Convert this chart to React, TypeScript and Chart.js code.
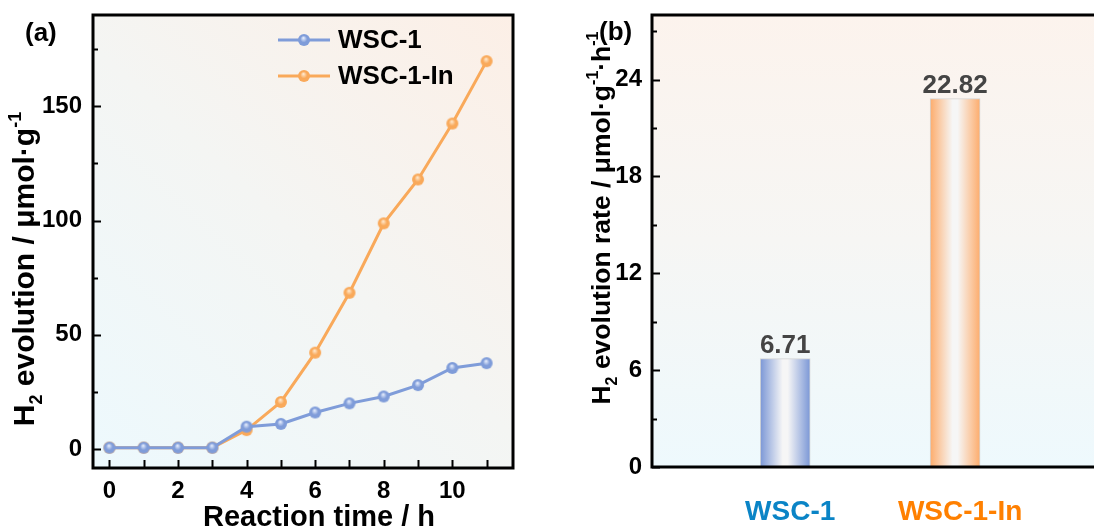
import React, { useEffect, useRef } from 'react';
import { Chart, registerables } from 'chart.js';

Chart.register(...registerables);

// ---------- data ----------
const hours = [0, 1, 2, 3, 4, 5, 6, 7, 8, 9, 10, 11];
const wsc1 = [0.6, 0.6, 0.6, 0.6, 9.8, 11, 16, 20, 23, 28, 35.5, 37.6];
const wsc1In = [0.6, 0.6, 0.6, 0.6, 8.3, 20.6, 42.2, 68.4, 98.8, 118, 142.5, 169.8];
const xTicksA = [0, 1, 2, 3, 4, 5, 6, 7, 8, 9, 10, 11];
const yTicksA = [0, 25, 50, 75, 100, 125, 150, 175];
const seriesNames = ['WSC-1', 'WSC-1-In'];

const rateLabels = ['WSC-1', 'WSC-1-In'];
const rates = [6.71, 22.82];
const yTicksB = [0, 3, 6, 9, 12, 15, 18, 21, 24, 27];

// ---------- styles ----------
const FONT = '"Liberation Sans", Arial, Helvetica, sans-serif';
const BLUE = '#7f9cd9';
const BLUE_LIGHT = '#e4ecfc';
const ORANGE = '#f9a95a';
const ORANGE_LIGHT = '#ffe8cc';

type Seg = { t: string; k?: 'sub' | 'sup' };

function segFont(size: number, k?: string) {
  const s = k ? Math.round(size * 0.6) : size;
  return `bold ${s}px ${FONT}`;
}

function richWidth(ctx: CanvasRenderingContext2D, segs: Seg[], size: number) {
  let w = 0;
  for (const s of segs) {
    ctx.font = segFont(size, s.k);
    w += ctx.measureText(s.t).width;
  }
  return w;
}

function drawRich(
  ctx: CanvasRenderingContext2D,
  segs: Seg[],
  cx: number,
  cy: number,
  size: number,
  rotated: boolean,
) {
  ctx.save();
  ctx.translate(cx, cy);
  if (rotated) ctx.rotate(-Math.PI / 2);
  const total = richWidth(ctx, segs, size);
  let u = -total / 2;
  ctx.fillStyle = '#000';
  ctx.textBaseline = 'alphabetic';
  ctx.textAlign = 'left';
  for (const s of segs) {
    ctx.font = segFont(size, s.k);
    const off = s.k === 'sub' ? size * 0.28 : s.k === 'sup' ? -size * 0.45 : 0;
    ctx.fillText(s.t, u, off);
    u += ctx.measureText(s.t).width;
  }
  ctx.restore();
}

function makeBall(color: string, light: string, r: number) {
  const c = document.createElement('canvas');
  const s = Math.ceil(r * 2 + 2);
  c.width = s;
  c.height = s;
  const g = c.getContext('2d')!;
  const cx = s / 2;
  const cy = s / 2;
  const grad = g.createRadialGradient(cx - r * 0.1, cy - r * 0.35, r * 0.05, cx, cy, r);
  grad.addColorStop(0, light);
  grad.addColorStop(0.55, color);
  grad.addColorStop(1, color);
  g.fillStyle = grad;
  g.beginPath();
  g.arc(cx, cy, r, 0, Math.PI * 2);
  g.fill();
  return c;
}

function noPad(s: any) {
  s.paddingTop = 0;
  s.paddingBottom = 0;
  s.paddingLeft = 0;
  s.paddingRight = 0;
}

function drawFrame(
  chart: any,
  ctx: CanvasRenderingContext2D,
  yMajor: (v: number) => boolean,
  withX: boolean,
) {
  const { left, right, top, bottom } = chart.chartArea;
  ctx.save();
  ctx.strokeStyle = '#000';
  ctx.lineWidth = 2;
  const ys = chart.scales.y;
  for (const t of ys.ticks) {
    const py = Math.round(ys.getPixelForValue(t.value)) + 0.5;
    const len = yMajor(t.value) ? 8 : 5;
    ctx.beginPath();
    ctx.moveTo(left, py);
    ctx.lineTo(left + len, py);
    ctx.stroke();
  }
  if (withX) {
    const xs = chart.scales.x;
    for (const t of xs.ticks) {
      const px = Math.round(xs.getPixelForValue(t.value)) + 0.5;
      ctx.beginPath();
      ctx.moveTo(px, bottom);
      ctx.lineTo(px, bottom - 8);
      ctx.stroke();
    }
  }
  ctx.lineWidth = 3;
  ctx.strokeRect(left, top, right - left, bottom - top);
  ctx.restore();
}

function LineChart() {
  const ref = useRef<HTMLCanvasElement | null>(null);
  useEffect(() => {
    const canvas = ref.current!;
    const blueBall = makeBall(BLUE, BLUE_LIGHT, 6);
    const orangeBall = makeBall(ORANGE, ORANGE_LIGHT, 6);
    const bgPlugin = {
      id: 'bgA',
      beforeDraw(chart: any) {
        const { ctx } = chart;
        const { left, right, top, bottom } = chart.chartArea;
        const g = ctx.createLinearGradient(left, bottom, right, top);
        g.addColorStop(0, '#edf9fd');
        g.addColorStop(0.5, '#f4f5f3');
        g.addColorStop(1, '#fcefe6');
        ctx.save();
        ctx.fillStyle = g;
        ctx.fillRect(left, top, right - left, bottom - top);
        ctx.restore();
      },
    };
    const decoPlugin = {
      id: 'decoA',
      afterDraw(chart: any) {
        const ctx: CanvasRenderingContext2D = chart.ctx;
        drawFrame(chart, ctx, (v) => v % 50 === 0, true);
        const items = [
          { name: seriesNames[0], color: BLUE, ball: blueBall, y: 40 },
          { name: seriesNames[1], color: ORANGE, ball: orangeBall, y: 76 },
        ];
        ctx.save();
        for (const it of items) {
          ctx.strokeStyle = it.color;
          ctx.lineWidth = 3;
          ctx.beginPath();
          ctx.moveTo(278, it.y);
          ctx.lineTo(330, it.y);
          ctx.stroke();
          ctx.drawImage(it.ball, 304 - it.ball.width / 2, it.y - it.ball.height / 2);
          ctx.fillStyle = '#000';
          ctx.font = `bold 26px ${FONT}`;
          ctx.textAlign = 'left';
          ctx.textBaseline = 'middle';
          ctx.fillText(it.name, 338, it.y + 1);
        }
        ctx.font = `bold 26px ${FONT}`;
        ctx.textAlign = 'left';
        ctx.textBaseline = 'middle';
        ctx.fillText('(a)', 25, 34);
        ctx.restore();
        drawRich(ctx, [{ t: 'Reaction time / h' }], 319, 526, 29, false);
        drawRich(
          ctx,
          [{ t: 'H' }, { t: '2', k: 'sub' }, { t: ' evolution / μmol·g' }, { t: '-1', k: 'sup' }],
          34,
          269,
          30,
          true,
        );
      },
    };
    const chart = new Chart(canvas, {
      type: 'line',
      data: {
        datasets: [
          {
            label: seriesNames[0],
            data: hours.map((h, i) => ({ x: h, y: wsc1[i] })),
            borderColor: BLUE,
            borderWidth: 3,
            pointStyle: blueBall as any,
            pointRadius: 6,
            tension: 0,
          },
          {
            label: seriesNames[1],
            data: hours.map((h, i) => ({ x: h, y: wsc1In[i] })),
            borderColor: ORANGE,
            borderWidth: 3,
            pointStyle: orangeBall as any,
            pointRadius: 6,
            tension: 0,
          },
        ],
      },
      options: {
        responsive: false,
        animation: false,
        layout: { padding: { top: 15, right: 47, left: 0, bottom: 0 } },
        plugins: { legend: { display: false }, tooltip: { enabled: false } },
        scales: {
          x: {
            type: 'linear',
            offset: false,
            min: -0.48,
            max: 11.77,
            grid: { display: false, drawTicks: false },
            border: { display: false },
            afterBuildTicks: (s: any) => {
              s.ticks = xTicksA.map((v) => ({ value: v }));
            },
            afterFit: (s: any) => {
              s.height = 59;
              noPad(s);
            },
            ticks: {
              autoSkip: false,
              maxRotation: 0,
              padding: 9,
              color: '#000',
              font: { family: FONT, size: 24, weight: 'bold' },
              callback: (v: any) => (Number(v) % 2 === 0 ? String(v) : ''),
            },
          },
          y: {
            type: 'linear',
            min: -8.3,
            max: 190,
            grid: { display: false, drawTicks: false },
            border: { display: false },
            afterBuildTicks: (s: any) => {
              s.ticks = yTicksA.map((v) => ({ value: v }));
            },
            afterFit: (s: any) => {
              s.width = 93;
              noPad(s);
            },
            ticks: {
              padding: 11,
              color: '#000',
              font: { family: FONT, size: 24, weight: 'bold' },
              callback: (v: any) => (Number(v) % 50 === 0 ? String(v) : ''),
            },
          },
        },
      },
      plugins: [bgPlugin, decoPlugin],
    } as any);
    return () => chart.destroy();
  }, []);
  return <canvas ref={ref} width={560} height={527} style={{ position: 'absolute', left: 0, top: 0 }} />;
}

function BarChart() {
  const ref = useRef<HTMLCanvasElement | null>(null);
  useEffect(() => {
    const canvas = ref.current!;
    const edges = ['#7b97d6', '#fdac6c'];
    const labelColors = ['#0a84c6', '#ff8000'];
    const bgPlugin = {
      id: 'bgB',
      beforeDraw(chart: any) {
        const { ctx } = chart;
        const { left, right, top, bottom } = chart.chartArea;
        const g = ctx.createLinearGradient(0, top, 0, bottom);
        g.addColorStop(0, '#fcf3ed');
        g.addColorStop(0.5, '#f6f6f4');
        g.addColorStop(1, '#eef9fd');
        ctx.save();
        ctx.fillStyle = g;
        ctx.fillRect(left, top, right - left, bottom - top);
        ctx.restore();
      },
    };
    const decoPlugin = {
      id: 'decoB',
      afterDatasetsDraw(chart: any) {
        const ctx: CanvasRenderingContext2D = chart.ctx;
        const meta = chart.getDatasetMeta(0);
        ctx.save();
        ctx.fillStyle = '#444';
        ctx.font = `bold 26px ${FONT}`;
        ctx.textAlign = 'center';
        ctx.textBaseline = 'alphabetic';
        meta.data.forEach((el: any, i: number) => {
          ctx.fillText(rates[i].toFixed(2), el.x, el.y - 6);
        });
        ctx.restore();
      },
      afterDraw(chart: any) {
        const ctx: CanvasRenderingContext2D = chart.ctx;
        drawFrame(chart, ctx, (v) => v % 6 === 0, false);
        ctx.save();
        ctx.fillStyle = '#000';
        ctx.font = `bold 26px ${FONT}`;
        ctx.textAlign = 'left';
        ctx.textBaseline = 'middle';
        ctx.fillText('(b)', 39, 33);
        ctx.restore();
        drawRich(
          ctx,
          [
            { t: 'H' },
            { t: '2', k: 'sub' },
            { t: ' evolution rate / μmol·g' },
            { t: '-1', k: 'sup' },
            { t: '·h' },
            { t: '-1', k: 'sup' },
          ],
          50,
          218,
          26.5,
          true,
        );
      },
    };
    const chart = new Chart(canvas, {
      type: 'bar',
      data: {
        datasets: [
          {
            label: 'rate',
            data: rates.map((r, i) => ({ x: i + 1, y: r })),
            barThickness: 50,
            borderWidth: 1,
            borderColor: 'rgba(205,205,205,0.8)',
            borderSkipped: false,
            backgroundColor: (c: any) => {
              const idx = c.dataIndex ?? 0;
              const chart = c.chart;
              const xs = chart.scales && chart.scales.x;
              if (!xs || !chart.chartArea) return edges[idx];
              const px = xs.getPixelForValue(idx + 1);
              const g = chart.ctx.createLinearGradient(px - 25, 0, px + 25, 0);
              g.addColorStop(0, edges[idx]);
              g.addColorStop(0.45, '#f6f6f6');
              g.addColorStop(0.55, '#f6f6f6');
              g.addColorStop(1, edges[idx]);
              return g;
            },
          },
        ],
      },
      options: {
        responsive: false,
        animation: false,
        layout: { padding: { top: 15, right: 12, left: 0, bottom: 0 } },
        plugins: { legend: { display: false }, tooltip: { enabled: false } },
        scales: {
          x: {
            type: 'linear',
            offset: false,
            min: 0.216,
            max: 2.9,
            grid: { display: false, drawTicks: false, offset: false },
            border: { display: false },
            afterBuildTicks: (s: any) => {
              s.ticks = rateLabels.map((_, i) => ({ value: i + 1 }));
            },
            afterFit: (s: any) => {
              s.height = 60;
              noPad(s);
            },
            ticks: {
              autoSkip: false,
              maxRotation: 0,
              padding: 28,
              labelOffset: 5,
              color: (c: any) => labelColors[Math.round(c.tick?.value ?? 1) - 1] || '#000',
              font: { family: FONT, size: 28, weight: 'bold' },
              callback: (v: any) => rateLabels[Math.round(Number(v)) - 1] ?? '',
            },
          },
          y: {
            type: 'linear',
            min: 0,
            max: 28,
            grid: { display: false, drawTicks: false },
            border: { display: false },
            afterBuildTicks: (s: any) => {
              s.ticks = yTicksB.map((v) => ({ value: v }));
            },
            afterFit: (s: any) => {
              s.width = 92;
              noPad(s);
            },
            ticks: {
              padding: 10,
              color: '#000',
              font: { family: FONT, size: 24, weight: 'bold' },
              callback: (v: any) => (Number(v) % 6 === 0 ? String(v) : ''),
            },
          },
        },
      },
      plugins: [bgPlugin, decoPlugin],
    } as any);
    return () => chart.destroy();
  }, []);
  return <canvas ref={ref} width={560} height={527} style={{ position: 'absolute', left: 560, top: 0 }} />;
}

export default function App() {
  useEffect(() => {
    document.body.style.margin = '0';
    document.body.style.overflow = 'hidden';
    document.body.style.background = '#fff';
  }, []);
  return (
    <div style={{ position: 'relative', width: 1094, height: 527, overflow: 'hidden', background: '#fff' }}>
      <LineChart />
      <BarChart />
    </div>
  );
}
